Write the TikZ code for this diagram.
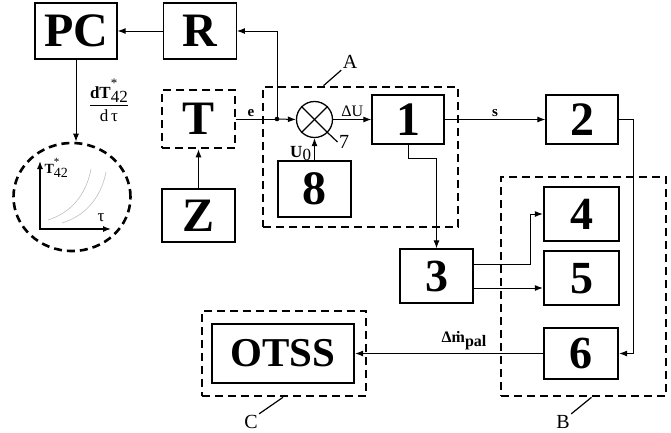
\documentclass[tikz,border=0pt]{standalone}
\usepackage{fontspec}
\setmainfont{Liberation Serif}
\usetikzlibrary{arrows.meta,positioning,shapes.geometric}

\begin{document}
\begin{tikzpicture}[
  x=1pt, y=-1pt, line width=1pt,
  node distance=8pt and 45pt,
  blk/.style={draw, line width=1.3pt, inner sep=0pt,
              font=\fontsize{48}{48}\selectfont\bfseries},
  thkblk/.style={blk, line width=2.3pt, font=\fontsize{46}{46}\selectfont\bfseries},
  frame/.style={draw, line width=2.6pt, dash pattern=on 8pt off 5pt, inner sep=0pt},
  lbl/.style={font=\fontsize{15}{15}\selectfont\bfseries, inner sep=2pt},
  tag/.style={font=\fontsize{20}{20}\selectfont, inner sep=1pt},
  >={Latex[length=8pt,width=6pt]}
]
\useasboundingbox (0,0) rectangle (671,432);

% groups
\node[frame, minimum width=195pt, minimum height=140pt] (grpA) at (360.5,157) {};
\node[frame, minimum width=165pt, minimum height=219pt] (grpB) at (583.5,286.5) {};
\node[frame, minimum width=164pt, minimum height=85pt]  (grpC) at (284,353.5) {};

% blocks
\node[blk, minimum width=82pt, minimum height=56pt] (PC) at (76,31) {PC};
\node[blk, minimum width=73pt, minimum height=56pt, right=45pt of PC] (R) {R};
\node[frame, minimum width=73pt, minimum height=58pt,
      font=\fontsize{48}{48}\selectfont\bfseries] (T) at (198.5,119) {T};
\node[blk, minimum width=73pt, minimum height=53pt, below=39pt of T] (Z) {Z};
\node[draw, circle, line width=1.3pt, minimum size=36pt, inner sep=0pt] (sum) at (314.5,119.5) {};
\node[blk, minimum width=72pt, minimum height=49pt] (box1) at (408,119.5) {1};
\node[blk, minimum width=73pt, minimum height=56pt] (box8) at (314.5,189) {8};
\node[blk, minimum width=72pt, minimum height=49pt] (box2) at (582,119.5) {2};
\node[blk, minimum width=73pt, minimum height=54pt,
      font=\fontsize{46}{46}\selectfont\bfseries] (box3) at (436.5,276) {3};
\node[thkblk, minimum width=75pt, minimum height=54pt] (box4) at (581.5,214) {4};
\node[thkblk, minimum width=75pt, minimum height=54pt, below=of box4] (box5) {5};
\node[thkblk, minimum width=74pt, minimum height=51pt] (box6) at (581,353.5) {6};
\node[thkblk, minimum width=142pt, minimum height=59pt,
      font=\fontsize{41}{41}\selectfont\bfseries] (OTSS) at (283,353.5) {OTSS};

% graph
\node[frame, ellipse, minimum width=117pt, minimum height=108pt] (graph) at (72,197) {};
\coordinate (org) at (40,229);
\draw[<->, line width=1.3pt] (40,161) -- (org) -- (111,229);
\draw[gray!50, line width=0.6pt] (48,220) .. controls (70,213) and (86,196) .. (91,169);
\draw[gray!50, line width=0.6pt] (62,223) .. controls (85,216) and (101,198) .. (106,172);
\node[anchor=west, inner sep=0pt] (tlab) at (44,168)
  {\fontsize{14}{14}\selectfont\textbf{T}\raisebox{-4pt}{\shortstack[l]{\fontsize{11}{11}\selectfont*\\42}}};
\node[font=\fontsize{17}{17}\selectfont, inner sep=0pt] (tau) at (101,218) {τ};

% labels and leaders
\node[tag] (labA) at (350,62) {A};
\node[tag] (labB) at (563,422) {B};
\node[tag] (labC) at (251,422) {C};
\node[tag] (lab7) at (344,142) {7};
\draw[line width=1.2pt] ([xshift=-37pt]grpA.north) -- (labA.south west);
\draw[line width=1.2pt] ([xshift=8pt]grpB.south) -- (labB.north east);
\draw[line width=1.2pt] ([xshift=-1pt]grpC.south) -- (labC.north east);
\draw[line width=1.2pt] (sum.north east) -- (sum.south west);
\draw[line width=1.2pt] (sum.north west) -- (sum.south east) -- (lab7.west);

% connectors
\coordinate (jn) at (277,119);
\draw[->] (R) -- (PC);
\draw[->] (PC.south) -- node[right=9pt, pos=0.5, font=\fontsize{17}{17}\selectfont]
  {$\displaystyle\frac{\mbox{\textbf{dT}\raisebox{-4pt}{\shortstack[l]{\fontsize{13}{13}\selectfont*\\42}}}}{\mbox{d\,τ}}$}
  (PC.south |- graph.north);
\draw[->] (Z) -- (T);
\draw (T.east) -- node[lbl, above, pos=0.36] {e} (jn);
\fill (jn) circle (2.3pt);
\draw[->] (jn) -- (sum.west);
\draw[->] (jn) |- (R.east);
\draw[->] (sum.east) -- node[above, font=\fontsize{16}{16}\selectfont, inner sep=2pt] {ΔU} (box1.west);
\draw[->] (box8.north) -- node[left, pos=0.3, font=\fontsize{17}{17}\selectfont, inner sep=3pt]
  {\textbf{U}\raisebox{-3pt}{0}} (sum.south);
\draw[->] (box1.east) -- node[lbl, above] {s} (box2.west);
\draw[->] (box1.south) -- ++(0,14) -| (box3.north);
\draw[->] (box2.east) -- ++(15,0) |- (box6.east);
\draw[->] ([yshift=12pt]box3.east) -- ++(57,0) |- (box4.west);
\draw[->] ([yshift=-12pt]box3.east) -- ([yshift=-12pt]box3.east -| box5.west);
\draw[->] (box6.west) -- node[above, pos=0.42, font=\fontsize{16}{16}\selectfont\bfseries, inner sep=3pt]
  {Δ\.{m}\raisebox{-4pt}{pal}} (OTSS.east);
\end{tikzpicture}
\end{document}
